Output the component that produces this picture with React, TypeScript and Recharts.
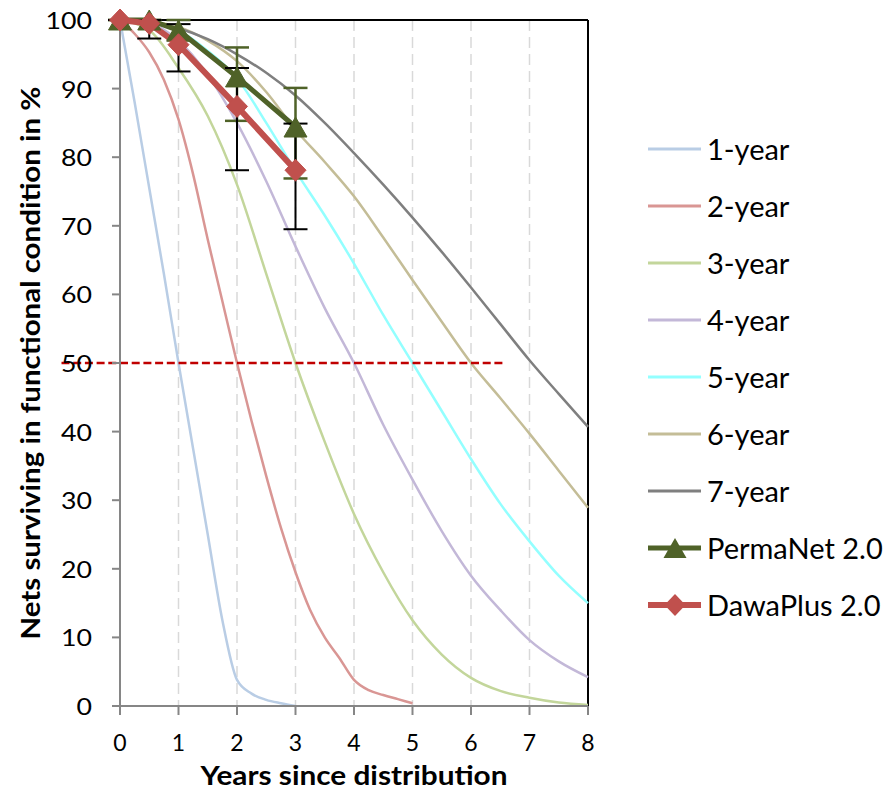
import React from 'react';
import {
  LineChart,
  Line,
  XAxis,
  YAxis,
  CartesianGrid,
  ReferenceLine,
  ErrorBar,
  Legend,
} from 'recharts';

// ---- x positions (years since distribution) ----
const halfYears = [0, 0.5, 1, 1.5, 2, 2.5, 3, 3.5, 4, 4.5, 5, 5.5, 6, 6.5, 7, 7.5, 8];
const quarterYearsTo3 = [0, 0.25, 0.5, 0.75, 1, 1.25, 1.5, 1.75, 2, 2.25, 2.5, 2.75, 3];
const quarterYearsTo5 = [
  0, 0.25, 0.5, 0.75, 1, 1.25, 1.5, 1.75, 2, 2.25, 2.5, 2.75, 3, 3.25, 3.5, 3.75, 4, 4.25, 4.5, 4.75, 5,
];

// ---- hypothetical survival curves (% surviving) ----
const oneYear = [100, 88, 75.5, 63, 50, 37.5, 25, 12.5, 3.8, 1.8, 0.9, 0.4, 0];
const twoYear = [
  100, 98, 95.3, 91.3, 85.5, 77.5, 68, 59, 50, 41.5, 33.5, 26, 19.5, 14, 10, 7, 3.8, 2.3, 1.6, 1.0, 0.4,
];
const threeYear = [100, 98.5, 93, 86, 76, 63, 50, 38.5, 28, 19.5, 12.5, 7.5, 4.1, 2.2, 1.2, 0.5, 0.15];
const fourYear = [100, 99.5, 97, 92, 85, 76.5, 67, 58, 50, 41, 33, 25.5, 19, 14, 9.6, 6.5, 4.2];
const fiveYear = [100, 99.8, 98.5, 95.5, 91.5, 85, 78, 71.5, 64.5, 57, 50, 43, 36, 29.5, 24, 19, 15];
const sixYear = [100, 99.8, 99, 97, 94, 89.5, 84, 79.3, 74.3, 68.3, 62.1, 56, 50, 44.9, 39.7, 34.3, 28.9];
const sevenYear = [100, 99.8, 98.8, 97.2, 95, 92.3, 89, 85, 80.6, 76, 71.2, 66.2, 61, 55.7, 50.4, 45.5, 40.7];

// ---- observed products ----
const productYears = [0, 0.5, 1, 2, 3];
const permaNet = [100, 100, 98.5, 91.7, 84.4];
const permaNetErrLow = [0, 0, 1.5, 6.4, 7.5];
const permaNetErrHigh = [0, 0, 1.5, 4.3, 5.7];
const dawaPlus = [100, 99.5, 96.4, 87.4, 78.1];
const dawaPlusErrLow = [0, 2.2, 3.9, 9.3, 8.6];
const dawaPlusErrHigh = [0, 0.5, 3.0, 5.6, 6.8];

// ---- axes / reference ----
const xTicks = [0, 1, 2, 3, 4, 5, 6, 7, 8];
const yTicks = [0, 10, 20, 30, 40, 50, 60, 70, 80, 90, 100];
const halfLifeLevel = 50;
const halfLifeFrom = -1;
const halfLifeTo = 6.55;

const curveNames = ['1-year', '2-year', '3-year', '4-year', '5-year', '6-year', '7-year'];
const curveColors = ['#B9CDE5', '#D99694', '#C3D69B', '#C3B8D8', '#93FFFF', '#C4BD97', '#7F7F7F'];
const curveXs = [quarterYearsTo3, quarterYearsTo5, halfYears, halfYears, halfYears, halfYears, halfYears];
const curveYs = [oneYear, twoYear, threeYear, fourYear, fiveYear, sixYear, sevenYear];

const PERMA_NAME = 'PermaNet 2.0';
const DAWA_NAME = 'DawaPlus 2.0';
const PERMA_COLOR = '#4F6228';
const DAWA_COLOR = '#C0504D';
const legendOrder = [...curveNames, PERMA_NAME, DAWA_NAME];

const FONT = 'Lato, "Open Sans", sans-serif';

const curves = curveNames.map((name, i) => ({
  name,
  color: curveColors[i],
  data: curveXs[i].map((x, j) => ({ x, y: curveYs[i][j] })),
}));

const permaData = productYears.map((x, i) => ({
  x,
  y: permaNet[i],
  err: [permaNetErrLow[i], permaNetErrHigh[i]],
}));
const dawaData = productYears.map((x, i) => ({
  x,
  y: dawaPlus[i],
  err: [dawaPlusErrLow[i], dawaPlusErrHigh[i]],
}));

const trianglePath = (cx: number, cy: number) =>
  `M${cx},${cy - 10} L${cx + 11.5},${cy + 10} L${cx - 11.5},${cy + 10} Z`;
const diamondPath = (cx: number, cy: number) =>
  `M${cx},${cy - 11} L${cx + 10.5},${cy} L${cx},${cy + 11} L${cx - 10.5},${cy} Z`;

const TriangleDot = (props: any) => {
  const { cx, cy, index } = props;
  if (cx == null || cy == null) return <g key={`t${index}`} />;
  return <path key={`t${index}`} d={trianglePath(cx, cy)} fill={PERMA_COLOR} stroke={PERMA_COLOR} />;
};
const DiamondDot = (props: any) => {
  const { cx, cy, index } = props;
  if (cx == null || cy == null) return <g key={`d${index}`} />;
  return <path key={`d${index}`} d={diamondPath(cx, cy)} fill={DAWA_COLOR} stroke={DAWA_COLOR} />;
};

const YTick = (props: any) => {
  const { x, y, payload } = props;
  const label = String(payload.value);
  return (
    <text
      x={x}
      y={y}
      textAnchor="end"
      dominantBaseline="central"
      fontFamily={FONT}
      fontSize={23}
      fill="#000"
      textLength={label.length * 15.5}
      lengthAdjust="spacingAndGlyphs"
    >
      {label}
    </text>
  );
};

const XTitle = (props: any) => {
  const vb = props.viewBox || { x: 120, y: 706, width: 468, height: 88 };
  return (
    <text
      x={vb.x + vb.width / 2}
      y={vb.y + 79}
      textAnchor="middle"
      fontFamily={FONT}
      fontWeight={700}
      fontSize={26}
      fill="#000"
      textLength={307}
      lengthAdjust="spacingAndGlyphs"
    >
      Years since distribution
    </text>
  );
};

const YTitle = (props: any) => {
  const vb = props.viewBox || { x: 0, y: 20, width: 120, height: 686 };
  const x = vb.x + 30;
  const y = vb.y + vb.height / 2;
  return (
    <text
      x={x}
      y={y}
      transform={`rotate(-90, ${x}, ${y})`}
      textAnchor="middle"
      dominantBaseline="central"
      fontFamily={FONT}
      fontWeight={700}
      fontSize={26}
      fill="#000"
      textLength={553}
      lengthAdjust="spacingAndGlyphs"
    >
      Nets surviving in functional condition in %
    </text>
  );
};

const LegendContent = (props: any) => {
  const payload: any[] = (props.payload || []).slice();
  payload.sort((a, b) => legendOrder.indexOf(a.value) - legendOrder.indexOf(b.value));
  return (
    <div style={{ fontFamily: FONT }}>
      {payload.map((entry) => {
        const name = entry.value;
        const color = entry.color;
        const isPerma = name === PERMA_NAME;
        const isDawa = name === DAWA_NAME;
        const sw = isPerma ? 5 : isDawa ? 6 : 3;
        return (
          <div
            key={name}
            style={{ height: 57, display: 'flex', alignItems: 'center', whiteSpace: 'nowrap' }}
          >
            <svg width={58} height={30} style={{ display: 'block' }}>
              <line x1={2} y1={15} x2={55} y2={15} stroke={color} strokeWidth={sw} />
              {isPerma && <path d={trianglePath(29, 15)} fill={PERMA_COLOR} />}
              {isDawa && <path d={diamondPath(29, 15)} fill={DAWA_COLOR} />}
            </svg>
            <span style={{ fontSize: 29, color: '#000', marginLeft: 3, lineHeight: '30px' }}>{name}</span>
          </div>
        );
      })}
    </div>
  );
};

export default function App() {
  return (
    <div style={{ position: 'absolute', left: 0, top: 0, width: 886, height: 794, background: '#fff' }}>
      <LineChart width={886} height={794} margin={{ top: 20, right: 298, bottom: 0, left: 0 }}>
        <CartesianGrid horizontal={false} stroke="#D9D9D9" strokeDasharray="11 6" strokeWidth={1.5} />
        <XAxis
          type="number"
          dataKey="x"
          domain={[0, 8]}
          ticks={xTicks}
          interval={0}
          height={88}
          axisLine={{ stroke: '#868686', strokeWidth: 2 }}
          tickLine={{ stroke: '#868686', strokeWidth: 2 }}
          tickSize={9}
          tickMargin={20}
          tick={{ fontFamily: FONT, fontSize: 23, fill: '#000' }}
          label={{ content: (p: any) => <XTitle {...p} /> }}
        />
        <YAxis
          type="number"
          domain={[0, 100]}
          ticks={yTicks}
          interval={0}
          width={120}
          axisLine={{ stroke: '#868686', strokeWidth: 2 }}
          tickLine={{ stroke: '#868686', strokeWidth: 2 }}
          tickSize={8}
          tickMargin={20}
          tick={(p: any) => <YTick {...p} />}
          label={{ content: (p: any) => <YTitle {...p} /> }}
        />
        <ReferenceLine y={100} stroke="#000" strokeWidth={2} />
        <ReferenceLine x={8} stroke="#000" strokeWidth={2} />
        {curves.map((c) => (
          <Line
            key={c.name}
            name={c.name}
            data={c.data}
            dataKey="y"
            type="monotone"
            stroke={c.color}
            strokeWidth={2.5}
            dot={false}
            activeDot={false}
            isAnimationActive={false}
          />
        ))}
        <Line
          name={PERMA_NAME}
          data={permaData}
          dataKey="y"
          type="linear"
          stroke={PERMA_COLOR}
          strokeWidth={5}
          dot={TriangleDot}
          activeDot={false}
          isAnimationActive={false}
        >
          <ErrorBar dataKey="err" direction="y" width={12} stroke={PERMA_COLOR} strokeWidth={2.5} />
        </Line>
        <Line
          name={DAWA_NAME}
          data={dawaData}
          dataKey="y"
          type="linear"
          stroke={DAWA_COLOR}
          strokeWidth={6}
          dot={DiamondDot}
          activeDot={false}
          isAnimationActive={false}
        >
          <ErrorBar dataKey="err" direction="y" width={12} stroke="#000" strokeWidth={2} />
        </Line>
        <ReferenceLine
          segment={[
            { x: halfLifeFrom, y: halfLifeLevel },
            { x: halfLifeTo, y: halfLifeLevel },
          ]}
          ifOverflow="visible"
          stroke="#C00000"
          strokeWidth={2.5}
          strokeDasharray="8 3.7"
        />
        <Legend
          layout="vertical"
          align="center"
          verticalAlign="middle"
          content={(p: any) => <LegendContent {...p} />}
          wrapperStyle={{ left: 646, top: 120, width: 240 }}
        />
      </LineChart>
    </div>
  );
}
